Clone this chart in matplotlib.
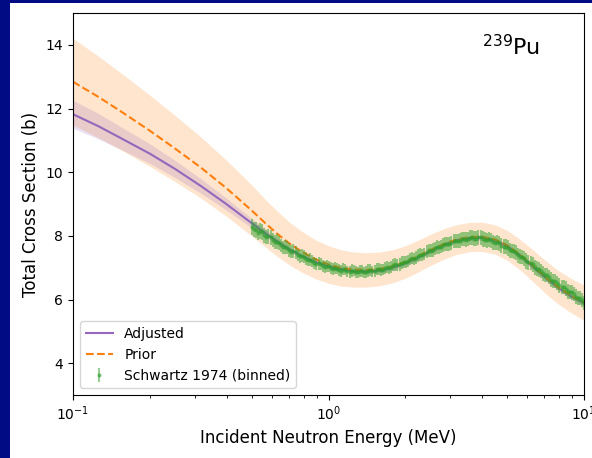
import numpy as np
import matplotlib
matplotlib.use('Agg')
import matplotlib.pyplot as plt
from matplotlib.patches import Rectangle

# evaluated curves (energy in MeV, cross section in b)
energy_curve = [0.1, 0.126, 0.158, 0.2, 0.251, 0.316, 0.398, 0.5, 0.562, 0.631, 0.708,
                0.794, 0.891, 1.0, 1.12, 1.26, 1.41, 1.58, 1.78, 2.0, 2.24, 2.51,
                2.82, 3.16, 3.55, 3.98, 4.47, 5.01, 5.62, 6.31, 7.08, 7.94, 8.91, 10.0]
adjusted = [11.82, 11.44, 11.02, 10.58, 10.10, 9.57, 9.00, 8.40, 8.10, 7.82, 7.56,
            7.35, 7.17, 7.04, 6.95, 6.89, 6.88, 6.91, 7.00, 7.14, 7.32, 7.52,
            7.71, 7.85, 7.93, 7.94, 7.86, 7.67, 7.38, 7.03, 6.68, 6.36, 6.10, 5.88]
adjusted_unc = [0.44, 0.40, 0.35, 0.31, 0.27, 0.23, 0.19, 0.15, 0.12, 0.10, 0.09,
                0.08, 0.08, 0.08, 0.08, 0.08, 0.08, 0.08, 0.08, 0.08, 0.08, 0.08,
                0.08, 0.08, 0.08, 0.08, 0.08, 0.08, 0.08, 0.08, 0.08, 0.08, 0.08, 0.08]
prior = [12.84, 12.36, 11.85, 11.30, 10.74, 10.15, 9.50, 8.80, 8.42, 8.06, 7.74,
         7.48, 7.26, 7.10, 6.99, 6.94, 6.93, 6.96, 7.04, 7.18, 7.36, 7.56,
         7.74, 7.88, 7.96, 7.97, 7.89, 7.70, 7.41, 7.06, 6.70, 6.38, 6.12, 5.90]
prior_unc = [1.36, 1.28, 1.20, 1.12, 1.04, 0.96, 0.88, 0.80, 0.75, 0.71, 0.67,
             0.64, 0.61, 0.59, 0.57, 0.55, 0.54, 0.53, 0.52, 0.51, 0.50, 0.49,
             0.48, 0.47, 0.46, 0.46, 0.46, 0.47, 0.48, 0.50, 0.52, 0.53, 0.54, 0.55]

# Schwartz 1974, binned
schwartz_e = [0.501, 0.520, 0.541, 0.561, 0.582, 0.605, 0.628, 0.652, 0.676, 0.703,
              0.729, 0.757, 0.787, 0.817, 0.848, 0.879, 0.914, 0.948, 0.984, 1.021,
              1.062, 1.102, 1.143, 1.186, 1.233, 1.279, 1.327, 1.380, 1.432, 1.486,
              1.542, 1.603, 1.663, 1.726, 1.791, 1.862, 1.932, 2.004, 2.084, 2.163,
              2.244, 2.328, 2.421, 2.512, 2.606, 2.710, 2.812, 2.917, 3.027, 3.148,
              3.266, 3.388, 3.524, 3.656, 3.793, 3.936, 4.093, 4.246, 4.406, 4.571,
              4.753, 4.932, 5.117, 5.321, 5.521, 5.728, 5.943, 6.180, 6.412, 6.653,
              6.902, 7.178, 7.447, 7.727, 8.017, 8.337, 8.650, 8.974, 9.311, 9.683, 10.0,
              0.510, 0.530, 0.551, 0.571, 0.593, 0.616, 0.640, 0.664, 0.689, 0.716,
              0.743, 0.772, 0.802, 0.832, 0.863, 0.896, 0.931, 0.966, 1.002, 1.041,
              1.082, 1.122, 1.164, 1.209, 1.256, 1.303, 1.353, 1.406, 1.459, 1.514,
              1.572, 1.633, 1.694, 1.758, 1.826, 1.897, 1.968, 2.044, 2.123, 2.203,
              2.286, 2.374, 2.466, 2.559, 2.657, 2.760, 2.864, 2.971, 3.087, 3.206,
              3.327, 3.455, 3.590, 3.724, 3.864, 4.014, 4.169, 4.325, 4.488, 4.661,
              4.842, 5.024, 5.218, 5.420, 5.624, 5.835, 6.060, 6.296, 6.532, 6.777,
              7.039, 7.312, 7.586, 7.871, 8.175, 8.492, 8.811, 9.141, 9.495, 9.840]
schwartz_xs = [8.28, 8.18, 8.15, 8.02, 7.98, 7.86, 7.82, 7.70, 7.66, 7.55,
               7.52, 7.40, 7.38, 7.28, 7.25, 7.15, 7.14, 7.06, 7.05, 6.98,
               6.99, 6.92, 6.95, 6.88, 6.91, 6.86, 6.90, 6.85, 6.91, 6.88,
               6.95, 6.93, 7.00, 6.99, 7.07, 7.08, 7.16, 7.17, 7.27, 7.28,
               7.38, 7.40, 7.50, 7.53, 7.61, 7.64, 7.70, 7.74, 7.78, 7.84,
               7.85, 7.91, 7.90, 7.95, 7.91, 7.95, 7.88, 7.89, 7.80, 7.80,
               7.69, 7.66, 7.55, 7.51, 7.39, 7.33, 7.21, 7.15, 7.01, 6.95,
               6.82, 6.76, 6.62, 6.57, 6.44, 6.39, 6.26, 6.22, 6.09, 6.04, 5.90,
               8.20, 8.10, 8.12, 7.96, 7.95, 7.80, 7.79, 7.64, 7.63, 7.50,
               7.48, 7.36, 7.35, 7.23, 7.22, 7.11, 7.12, 7.02, 7.04, 6.95,
               6.97, 6.90, 6.94, 6.86, 6.91, 6.85, 6.90, 6.86, 6.92, 6.89,
               6.96, 6.94, 7.02, 7.01, 7.10, 7.10, 7.19, 7.20, 7.30, 7.31,
               7.41, 7.43, 7.54, 7.55, 7.65, 7.66, 7.74, 7.75, 7.83, 7.83,
               7.90, 7.88, 7.94, 7.91, 7.95, 7.90, 7.86, 7.86, 7.78, 7.76,
               7.66, 7.62, 7.52, 7.47, 7.35, 7.29, 7.17, 7.10, 6.97, 6.90,
               6.78, 6.71, 6.58, 6.52, 6.40, 6.34, 6.23, 6.17, 6.05, 5.99]
schwartz_err = [0.26, 0.24, 0.25, 0.23, 0.24, 0.22, 0.23, 0.21, 0.22, 0.21,
                0.21, 0.20, 0.21, 0.20, 0.20, 0.19, 0.20, 0.19, 0.20, 0.19,
                0.19, 0.18, 0.19, 0.18, 0.19, 0.18, 0.19, 0.18, 0.19, 0.18,
                0.19, 0.18, 0.19, 0.18, 0.19, 0.19, 0.20, 0.19, 0.20, 0.19,
                0.20, 0.20, 0.21, 0.20, 0.21, 0.21, 0.22, 0.21, 0.22, 0.22,
                0.23, 0.22, 0.23, 0.23, 0.24, 0.23, 0.24, 0.23, 0.24, 0.23,
                0.24, 0.23, 0.24, 0.23, 0.24, 0.23, 0.24, 0.23, 0.24, 0.23,
                0.23, 0.22, 0.23, 0.22, 0.23, 0.22, 0.23, 0.22, 0.23, 0.22, 0.22,
                0.25, 0.24, 0.24, 0.23, 0.23, 0.22, 0.22, 0.21, 0.21, 0.20,
                0.20, 0.20, 0.19, 0.19, 0.19, 0.19, 0.18, 0.19, 0.18, 0.19,
                0.18, 0.18, 0.18, 0.18, 0.18, 0.18, 0.18, 0.18, 0.18, 0.18,
                0.18, 0.18, 0.18, 0.19, 0.19, 0.19, 0.19, 0.19, 0.19, 0.20,
                0.20, 0.20, 0.21, 0.21, 0.21, 0.21, 0.22, 0.22, 0.22, 0.22,
                0.23, 0.23, 0.23, 0.23, 0.24, 0.24, 0.23, 0.24, 0.23, 0.24,
                0.23, 0.24, 0.23, 0.24, 0.23, 0.24, 0.23, 0.24, 0.23, 0.23,
                0.22, 0.23, 0.22, 0.23, 0.22, 0.23, 0.22, 0.22, 0.22, 0.22]

fig = plt.figure(figsize=(5.92, 4.58), dpi=100, facecolor='#010c84')
fig.patches.append(Rectangle((10 / 592, 0), 1, 1 - 3 / 458, transform=fig.transFigure,
                             facecolor='white', edgecolor='none', zorder=-10))
ax = fig.add_axes([73 / 592, 63 / 458, 511 / 592, 382 / 458])

e = np.array(energy_curve)
adj = np.array(adjusted)
pri = np.array(prior)
ax.fill_between(e, pri - np.array(prior_unc), pri + np.array(prior_unc), color='C1', alpha=0.2, lw=0)
ax.fill_between(e, adj - np.array(adjusted_unc), adj + np.array(adjusted_unc), color='C4', alpha=0.2, lw=0)
ax.plot(e, adj, color='C4', label='Adjusted')
ax.plot(e, pri, color='C1', ls='--', label='Prior')
ax.errorbar(schwartz_e, schwartz_xs, yerr=schwartz_err, fmt='.', color='C2', alpha=0.5,
            ms=4, elinewidth=1.5, label='Schwartz 1974 (binned)')

ax.set_xscale('log')
ax.set_xlim(0.1, 10)
ax.set_ylim(3, 15)
ax.set_xlabel('Incident Neutron Energy (MeV)', fontsize=12)
ax.set_ylabel('Total Cross Section (b)', fontsize=12)
ax.text(0.8, 0.89, '$^{239}$Pu', fontsize=16, transform=ax.transAxes)
ax.legend(loc='lower left', fontsize=10)

fig.savefig('out.png', dpi=100, facecolor=fig.get_facecolor())
